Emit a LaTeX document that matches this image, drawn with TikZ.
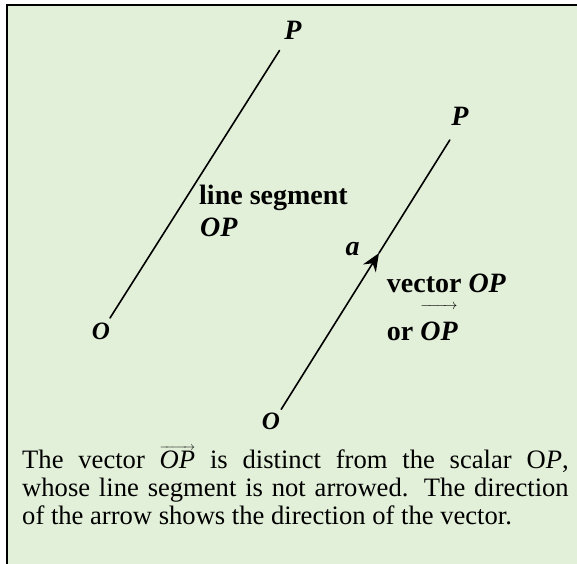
\documentclass[tikz,border=0pt]{standalone}
\usepackage{amsmath}
\usepackage{fontspec}
\setmainfont{Liberation Serif}
\usetikzlibrary{arrows.meta,calc}
\definecolor{panel}{HTML}{E2EFD9}
\newcommand{\lblfont}{\fontsize{28}{31.5}\selectfont\bfseries}
\newcommand{\ptfont}{\fontsize{28}{28}\selectfont\bfseries\itshape}
\newcommand{\ofont}{\fontsize{25}{25}\selectfont\bfseries\itshape}
\newcommand{\capfont}{\fontsize{26.6}{28.3}\selectfont}
% arrow over a piece of text, arrow set at a smaller math size
\newcommand{\arrowtext}[2]{{\fontsize{#1}{#1}\selectfont$\overrightarrow{\hbox{#2}}$}}
\tolerance=10000

\begin{document}
\begin{tikzpicture}[x=1pt,y=-1pt,
  seg/.style={line width=1.6pt,line cap=round},
  vec/.style={seg,-{Stealth[length=18pt,width=15pt,inset=6pt]}},
  endlbl/.style={font=\ptfont,inner sep=0pt,anchor=base},
  olbl/.style={font=\ofont,inner sep=0pt,anchor=base},
  lbl/.style={font=\lblfont,inner sep=0pt,anchor=base west},
  note/.style={font=\capfont,inner sep=0pt,anchor=base west,text width=546.5pt,align=justify}]
  \useasboundingbox (0,0) rectangle (577,563);
  \clip (0,0) rectangle (577,563);
  \draw[line width=2pt,fill=panel] (7,5) rectangle (620,620);
  % line segment
  \coordinate (o1) at (110,318);
  \coordinate (p1) at (279.5,50.5);
  \draw[seg] (o1) -- (p1);
  \node[endlbl] (P1) at (293,39.5) {P};
  \node[olbl] (O1) at (101,339.5) {O};
  \node[lbl] (seglbl) at (199,204.5) {line segment};
  \node[lbl] (seglblop) at (200,236) {\itshape OP};
  % vector, arrow head part way along
  \coordinate (o2) at (281.2,409.3);
  \coordinate (p2) at (449.8,140);
  \coordinate (tip) at ($(o2)!0.58!(p2)$);
  \draw[vec] (o2) -- (tip);
  \draw[seg] (tip) -- (p2);
  \node[endlbl] (P2) at (460,125) {P};
  \node[olbl] (O2) at (271,429.5) {O};
  \node[endlbl] (avec) at (352.5,255) {a};
  \node[lbl] (veclbl) at (386.7,292) {vector \textit{OP}};
  \node[lbl] (veclblalt) at (386.7,340) {or \smash{\arrowtext{14}{\lblfont\itshape\rule{0pt}{31pt}OP}}};
  % caption
  \node[note] (caption) at (22,468.3) {The vector \arrowtext{12}{\capfont\itshape OP} is distinct from the scalar O\textit{P},\linebreak
    whose line segment is not arrowed. The direction\linebreak
    of the arrow shows the direction of the vector.};
\end{tikzpicture}
\end{document}
